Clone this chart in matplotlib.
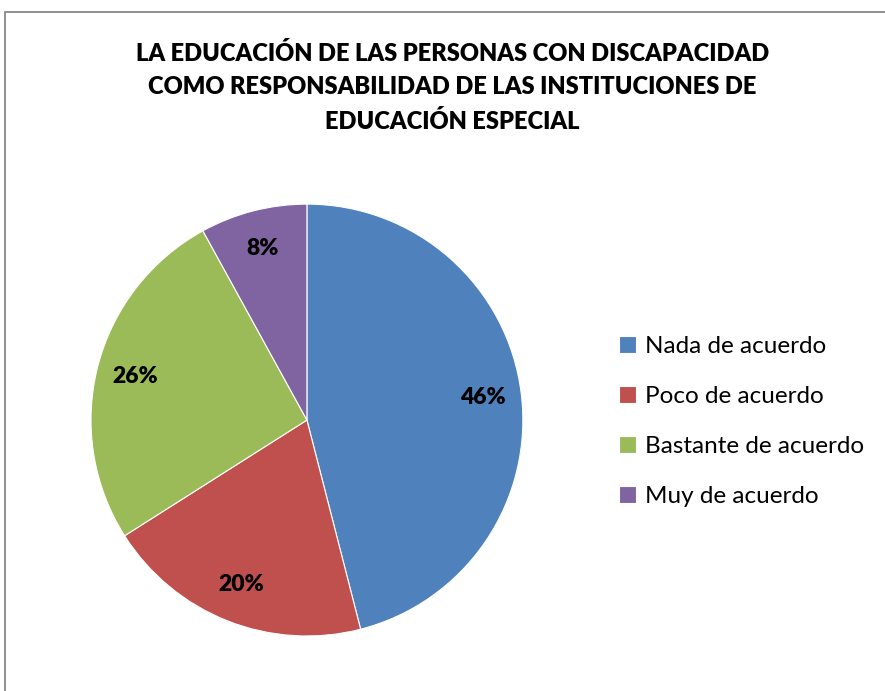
import matplotlib.pyplot as plt
from matplotlib.patches import Rectangle

# Response shares (%)
categories = ['Nada de acuerdo', 'Poco de acuerdo', 'Bastante de acuerdo', 'Muy de acuerdo']
shares = [46, 20, 26, 8]
colors = ['#4F81BD', '#C0504D', '#9BBB59', '#8064A2']

title = ('LA EDUCACIÓN DE LAS PERSONAS CON DISCAPACIDAD\n'
         'COMO RESPONSABILIDAD DE LAS INSTITUCIONES DE\n'
         'EDUCACIÓN ESPECIAL')

plt.rcParams['font.family'] = ['Lato', 'DejaVu Sans']

fig = plt.figure(figsize=(8.85, 6.91), dpi=100)

# chart border (runs off the right and bottom edges)
fig.patches.append(Rectangle((0.0057, -0.05), 1.05, 0.9826 + 0.05,
                             transform=fig.transFigure, fill=False,
                             edgecolor='#888888', linewidth=1.3))

ax = fig.add_axes([0.1028, 0.0796, 0.488, 0.625])
wedges, texts, autotexts = ax.pie(
    shares, colors=colors, startangle=90, counterclock=False,
    autopct='%d%%', pctdistance=0.82,
    wedgeprops=dict(edgecolor='white', linewidth=0.8),
    textprops=dict(fontsize=16.5, fontweight='heavy', color='black'))
ax.set_xlim(-1, 1)
ax.set_ylim(-1, 1)
ax.set_aspect('equal')

fig.text(0.511, 0.874, title, ha='center', va='center', fontsize=17,
         fontweight='heavy', linespacing=1.62)

fig.legend(wedges, categories, loc='center left', bbox_to_anchor=(0.675, 0.39),
           frameon=False, fontsize=17.5, handlelength=0.7, handleheight=0.7,
           handletextpad=0.35, labelspacing=1.2)

fig.savefig('out.png', dpi=100)
